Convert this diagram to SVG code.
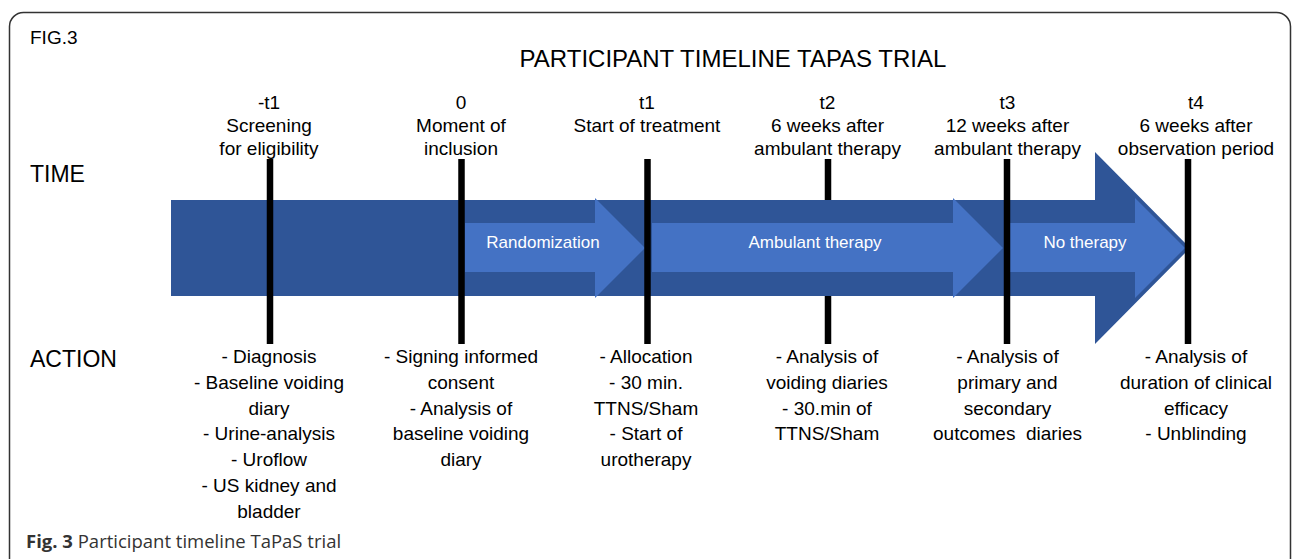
<svg xmlns="http://www.w3.org/2000/svg" width="1292" height="559" viewBox="0 0 1292 559">
<style>
.t{font-family:"Liberation Sans",Arial,sans-serif;fill:#000}
.c{text-anchor:middle;font-size:19px}
.h{font-size:23px}
.w{font-family:"Liberation Sans",Arial,sans-serif;fill:#fff;font-size:17px;text-anchor:middle}
.big{fill:#2F5597}
.sm{fill:#4472C4}
.ln{stroke:#000;stroke-width:6.5}
.cap{font-family:"Open Sans","Noto Sans",sans-serif;font-size:18.5px;fill:#333}
</style>
<rect x="9.5" y="12.5" width="1281" height="620" rx="14" fill="#fff" stroke="#333" stroke-width="1.5"/>
<text class="t" x="30" y="43.5" font-size="19">FIG.3</text>
<text class="t" x="733" y="67" font-size="24" text-anchor="middle">PARTICIPANT TIMELINE TAPAS TRIAL</text>
<text class="t h" x="30" y="182">TIME</text>
<text class="t h" x="30" y="367">ACTION</text>
<g id="connectors-back">
<line class="ln" x1="828" y1="159" x2="828" y2="344"/>
</g>
<g id="timeline-arrow">
<path class="big" d="M171,200 H1095 V152 L1190,248 L1095,344 V296 H171 Z"/>
</g>
<g id="randomization">
<path class="sm" d="M465,223 H595 V198 L645,248 L595,298 V272 H465 Z"/>
<text class="w" x="543" y="248">Randomization</text>
</g>
<g id="ambulant">
<path class="sm" d="M652,223 H953 V198 L1003,248 L953,298 V272 H652 Z"/>
<text class="w" x="815" y="248">Ambulant therapy</text>
</g>
<g id="notherapy">
<path class="sm" d="M1010,223 H1135 V198 L1185,248 L1135,298 V272 H1010 Z"/>
<text class="w" x="1085" y="248">No therapy</text>
</g>
<g id="connectors">
<line class="ln" x1="270" y1="159" x2="270" y2="344"/>
<line class="ln" x1="461.5" y1="159" x2="461.5" y2="344"/>
<line class="ln" x1="647.5" y1="159" x2="647.5" y2="344"/>
<line class="ln" x1="1007" y1="159" x2="1007" y2="344"/>
<line class="ln" x1="1188" y1="159" x2="1188" y2="344"/>
</g>
<g id="time-m1">
<text class="t c" x="269" y="109">-t1</text>
<text class="t c" x="269" y="132">Screening</text>
<text class="t c" x="269" y="155">for eligibility</text>
</g>
<g id="time-0">
<text class="t c" x="461" y="109">0</text>
<text class="t c" x="461" y="132">Moment of</text>
<text class="t c" x="461" y="155">inclusion</text>
</g>
<g id="time-t1">
<text class="t c" x="647" y="109">t1</text>
<text class="t c" x="647" y="132">Start of treatment</text>
</g>
<g id="time-t2">
<text class="t c" x="827.5" y="109">t2</text>
<text class="t c" x="827.5" y="132">6 weeks after</text>
<text class="t c" x="827.5" y="155">ambulant therapy</text>
</g>
<g id="time-t3">
<text class="t c" x="1007.5" y="109">t3</text>
<text class="t c" x="1007.5" y="132">12 weeks after</text>
<text class="t c" x="1007.5" y="155">ambulant therapy</text>
</g>
<g id="time-t4">
<text class="t c" x="1196" y="109">t4</text>
<text class="t c" x="1196" y="132">6 weeks after</text>
<text class="t c" x="1196" y="155">observation period</text>
</g>
<g id="action-m1">
<text class="t c" x="269" y="363">- Diagnosis</text>
<text class="t c" x="269" y="389">- Baseline voiding</text>
<text class="t c" x="269" y="415">diary</text>
<text class="t c" x="269" y="440">- Urine-analysis</text>
<text class="t c" x="269" y="466">- Uroflow</text>
<text class="t c" x="269" y="492">- US kidney and</text>
<text class="t c" x="269" y="518">bladder</text>
</g>
<g id="action-0">
<text class="t c" x="461" y="363">- Signing informed</text>
<text class="t c" x="461" y="389">consent</text>
<text class="t c" x="461" y="415">- Analysis of</text>
<text class="t c" x="461" y="440">baseline voiding</text>
<text class="t c" x="461" y="466">diary</text>
</g>
<g id="action-t1">
<text class="t c" x="646" y="363">- Allocation</text>
<text class="t c" x="646" y="389">- 30 min.</text>
<text class="t c" x="646" y="415">TTNS/Sham</text>
<text class="t c" x="646" y="440">- Start of</text>
<text class="t c" x="646" y="466">urotherapy</text>
</g>
<g id="action-t2">
<text class="t c" x="827" y="363">- Analysis of</text>
<text class="t c" x="827" y="389">voiding diaries</text>
<text class="t c" x="827" y="415">- 30.min of</text>
<text class="t c" x="827" y="440">TTNS/Sham</text>
</g>
<g id="action-t3">
<text class="t c" x="1007.5" y="363">- Analysis of</text>
<text class="t c" x="1007.5" y="389">primary and</text>
<text class="t c" x="1007.5" y="415">secondary</text>
<text class="t c" x="1007.5" y="440" xml:space="preserve">outcomes  diaries</text>
</g>
<g id="action-t4">
<text class="t c" x="1196" y="363">- Analysis of</text>
<text class="t c" x="1196" y="389">duration of clinical</text>
<text class="t c" x="1196" y="415">efficacy</text>
<text class="t c" x="1196" y="440">- Unblinding</text>
</g>
<text class="cap" x="26" y="548"><tspan font-weight="bold">Fig. 3</tspan> Participant timeline TaPaS trial</text>
</svg>
